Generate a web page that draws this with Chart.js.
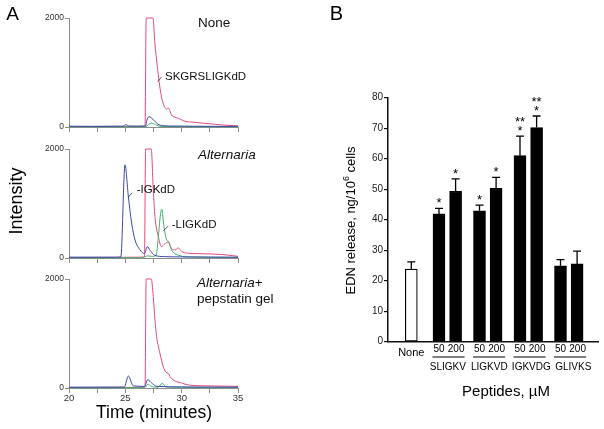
<!DOCTYPE html>
<html><head><meta charset="utf-8">
<script src="https://cdn.jsdelivr.net/npm/chart.js@4.4.0/dist/chart.umd.min.js"></script>
<style>
html,body{margin:0;padding:0;background:#fff;}
#wrap{position:relative;width:604px;height:429px;overflow:hidden;background:#fff;}
#wrap canvas{position:absolute;left:0;top:0;}
</style></head><body>
<div id="wrap">
<canvas id="a1" width="604" height="429"></canvas>
<canvas id="a2" width="604" height="429"></canvas>
<canvas id="a3" width="604" height="429"></canvas>
<canvas id="b" width="604" height="429"></canvas>
</div>
<script>
const FONT = "'Liberation Sans', Arial, Helvetica, sans-serif";

// ---------- Panel A data (time in minutes, intensity) ----------
const timeRange = [20, 35];
const intensityTicks = [0, 2000];

// None
const noneRedT = [20, 22, 24, 25.5, 26.5, 26.75, 26.85, 27.45, 27.62, 27.84, 28.0, 28.2, 28.45, 28.65, 28.8, 28.95, 29.1, 29.4, 29.7, 30.0, 30.4, 31.0, 31.9, 32.7, 33.4, 34.2, 35];
const noneRedI = [8, 10, 12, 12, 14, 18, 2000, 2000, 1540, 1110, 830, 560, 380, 330, 350, 300, 220, 180, 160, 130, 100, 90, 70, 55, 40, 30, 20];
const noneBlueT = [20, 22, 24, 24.8, 25.05, 25.3, 26, 26.8, 26.9, 27.1, 27.3, 27.6, 27.9, 28.3, 29, 31, 33, 35];
const noneBlueI = [15, 12, 14, 15, 45, 18, 15, 18, 120, 190, 170, 110, 50, 25, 18, 15, 12, 10];
const noneGreenT = [20, 26.8, 27.1, 27.35, 27.7, 28.2, 35];
const noneGreenI = [5, 6, 50, 70, 40, 10, 5];

// Alternaria
const altRedT = [20, 24, 26, 26.7, 26.8, 27.3, 27.48, 27.63, 27.93, 28.2, 28.5, 28.8, 29.1, 29.45, 29.7, 30.0, 30.5, 31.5, 32.5, 33.5, 34.5, 35];
const altRedI = [10, 12, 15, 20, 2000, 2000, 1250, 760, 390, 210, 260, 290, 170, 150, 185, 120, 90, 80, 75, 65, 45, 30];
const altBlueT = [20, 24, 24.6, 24.97, 25.27, 25.56, 25.86, 26.3, 26.7, 26.95, 27.2, 27.6, 28.5, 30, 32, 35];
const altBlueI = [15, 15, 20, 1710, 1125, 640, 330, 150, 80, 210, 140, 50, 25, 20, 18, 15];
const altGreenT = [20, 26.5, 27.0, 27.3, 27.7, 28.23, 28.43, 28.67, 28.85, 29.1, 29.4, 29.7, 30.5, 35];
const altGreenI = [5, 5, 40, 30, 40, 895, 575, 330, 300, 150, 80, 50, 20, 10];

// Alternaria + pepstatin gel
const pepRedT = [20, 26, 26.75, 26.85, 27.3, 27.48, 27.63, 27.78, 28.07, 28.37, 28.6, 28.8, 29.0, 29.26, 29.6, 29.9, 30.3, 30.8, 32, 33.5, 35];
const pepRedI = [10, 12, 20, 2000, 2000, 1680, 1250, 940, 636, 390, 290, 270, 200, 147, 110, 100, 70, 50, 40, 35, 30];
const pepBlueT = [20, 24.9, 25.27, 25.7, 26.7, 26.98, 27.4, 27.8, 30, 35];
const pepBlueI = [15, 18, 220, 40, 30, 150, 80, 30, 20, 15];
const pepGreenT = [20, 26.7, 27.0, 27.3, 27.9, 28.28, 28.6, 35];
const pepGreenI = [5, 5, 70, 30, 15, 86, 20, 5];

// ---------- Panel B data ----------
const peptides = ["SLIGKV", "LIGKVD", "IGKVDG", "GLIVKS"];
const doses = ["50", "200"];
const noneMean = 23.8, noneSem = 2.4;
const mean50 = [41.9, 42.9, 61.0, 24.9];
const mean200 = [49.3, 50.3, 70.2, 25.5];
const sem50 = [1.8, 1.9, 6.4, 2.0];
const sem200 = [4.1, 3.6, 3.8, 4.2];
const sig50 = [["*"], ["*"], ["**", "*"], []];
const sig200 = [["*"], ["*"], ["**", "*"], []];
const yTicksB = [0, 80, 10];

// ---------- Colors ----------
const RED = '#e4497a', BLUE = '#3b48a8', GREEN = '#44ad6c';

function pts(T, I) { return T.map((t, i) => ({x: t, y: I[i]})); }

// ---------- Panel A plugin ----------
const aDecor = {
  id: 'aDecor',
  afterDatasetsDraw(chart, args, o) {
    const ctx = chart.ctx, xs = chart.scales.x, ys = chart.scales.y;
    ctx.save();
    ctx.fillStyle = '#111';
    ctx.textBaseline = 'middle';
    ctx.textAlign = 'left';
    (o.title || []).forEach(line => {
      let x = line.x;
      line.parts.forEach(p => {
        ctx.font = (p.italic ? 'italic ' : '') + '13.5px ' + FONT;
        ctx.fillText(p.s, x, line.y);
        x += ctx.measureText(p.s).width;
      });
    });
    ctx.font = '11.5px ' + FONT;
    ctx.strokeStyle = '#333';
    ctx.lineWidth = 0.8;
    (o.labels || []).forEach(l => {
      const px = xs.getPixelForValue(l.at[0]), py = ys.getPixelForValue(l.at[1]);
      ctx.beginPath();
      ctx.moveTo(px, py);
      ctx.lineTo(px + l.lead[0], py + l.lead[1]);
      ctx.stroke();
      ctx.fillText(l.text, px + l.tx, py + l.ty);
    });
    ctx.restore();
  }
};

const pageText = {
  id: 'pageText',
  afterDraw(chart) {
    const ctx = chart.ctx;
    ctx.save();
    ctx.fillStyle = '#000';
    ctx.textAlign = 'center';
    ctx.textBaseline = 'middle';
    ctx.font = '19px ' + FONT;
    ctx.fillText('A', 12.5, 15);
    ctx.font = '17.5px ' + FONT;
    ctx.fillText('Time (minutes)', 154, 413);
    ctx.translate(17, 201);
    ctx.rotate(-Math.PI / 2);
    ctx.font = '18px ' + FONT;
    ctx.fillText('Intensity', 0, 0);
    ctx.restore();
  }
};

function mkA(id, area, series, showX, decor, extra) {
  const ds = series.map(s => ({
    data: pts(s.t, s.i), borderColor: s.c, borderWidth: 1, pointRadius: 0,
    cubicInterpolationMode: 'monotone', clip: false, fill: false
  }));
  return new Chart(document.getElementById(id), {
    type: 'line',
    data: {datasets: ds},
    plugins: [aDecor].concat(extra || []),
    options: {
      responsive: false, animation: false, events: [],
      layout: {padding: {top: area.top, right: 604 - area.right, bottom: 0, left: 0}},
      plugins: {legend: {display: false}, tooltip: {enabled: false}, aDecor: decor},
      scales: {
        x: {
          type: 'linear', min: timeRange[0], max: timeRange[1],
          ticks: {stepSize: 2.5, autoSkip: false, maxRotation: 0, display: showX,
            callback: v => (v % 5 === 0 ? String(v) : ''),
            font: {family: FONT, size: 9.5}, color: '#333', padding: 0},
          grid: {drawOnChartArea: false, drawTicks: true, tickLength: 5, color: '#8d8d8d', lineWidth: 1},
          border: {display: true, color: '#8d8d8d', width: 1},
          afterFit: s => { s.height = 429 - area.bottom; }
        },
        y: {
          min: intensityTicks[0], max: intensityTicks[1],
          ticks: {stepSize: intensityTicks[1], callback: v => String(v),
            font: {family: FONT, size: 8.5}, color: '#333', padding: 1},
          grid: {drawOnChartArea: false, tickLength: 4, color: '#8d8d8d', lineWidth: 1},
          border: {display: true, color: '#8d8d8d', width: 1},
          afterFit: s => { s.width = area.left; }
        }
      }
    }
  });
}

mkA('a1', {left: 69, right: 238, top: 18, bottom: 127}, [
  {t: noneBlueT, i: noneBlueI, c: BLUE},
  {t: noneGreenT, i: noneGreenI, c: GREEN},
  {t: noneRedT, i: noneRedI, c: RED}
], false, {
  title: [{x: 198, y: 23, parts: [{s: 'None'}]}],
  labels: [{at: [27.87, 830], lead: [4, -5], text: 'SKGRSLIGKdD', tx: 7.3, ty: -5}]
});

mkA('a2', {left: 69, right: 238, top: 149, bottom: 258}, [
  {t: altBlueT, i: altBlueI, c: BLUE},
  {t: altGreenT, i: altGreenI, c: GREEN},
  {t: altRedT, i: altRedI, c: RED}
], false, {
  title: [{x: 198, y: 155, parts: [{s: 'Alternaria', italic: true}]}],
  labels: [
    {at: [25.26, 1114], lead: [4, -4.6], text: '-IGKdD', tx: 8.4, ty: -7.3},
    {at: [28.37, 501], lead: [5, -4.7], text: '-LIGKdD', tx: 8.4, ty: -5.7}
  ]
});

mkA('a3', {left: 69, right: 238, top: 279, bottom: 388}, [
  {t: pepBlueT, i: pepBlueI, c: BLUE},
  {t: pepGreenT, i: pepGreenI, c: GREEN},
  {t: pepRedT, i: pepRedI, c: RED}
], true, {
  title: [
    {x: 197, y: 283, parts: [{s: 'Alternaria', italic: true}, {s: '+'}]},
    {x: 197, y: 299, parts: [{s: 'pepstatin gel'}]}
  ],
  labels: []
}, [pageText]);

// ---------- Panel B ----------
// bar positions along a linear axis (units of 10 px): None at 0, peptide groups after
function barPos(g, d) { return g < 0 ? 0 : 2.77 + g * 4.05 + d * 1.66; }
const bars = [{pos: barPos(-1), mean: noneMean, sem: noneSem, sig: [], fill: '#fff'}];
peptides.forEach((p, g) => {
  bars.push({pos: barPos(g, 0), mean: mean50[g], sem: sem50[g], sig: sig50[g], fill: '#000'});
  bars.push({pos: barPos(g, 1), mean: mean200[g], sem: sem200[g], sig: sig200[g], fill: '#000'});
});

const bDecor = {
  id: 'bDecor',
  afterDatasetsDraw(chart) {
    const ctx = chart.ctx, xs = chart.scales.x, ys = chart.scales.y;
    ctx.save();
    ctx.strokeStyle = '#000';
    ctx.fillStyle = '#000';
    ctx.lineWidth = 1.3;
    bars.forEach(b => {
      const px = xs.getPixelForValue(b.pos);
      const y0 = ys.getPixelForValue(b.mean), y1 = ys.getPixelForValue(b.mean + b.sem);
      ctx.beginPath();
      ctx.moveTo(px, y0); ctx.lineTo(px, y1);
      ctx.moveTo(px - 4, y1); ctx.lineTo(px + 4, y1);
      ctx.stroke();
      ctx.font = '13px ' + FONT;
      ctx.textAlign = 'center';
      ctx.textBaseline = 'alphabetic';
      const n = b.sig.length;
      b.sig.forEach((s, k) => {
        const cy = y1 - 8 - (n - 1 - k) * 9;
        ctx.fillText(s, px, cy + 7);
      });
    });
    // category labels
    ctx.textAlign = 'center';
    ctx.textBaseline = 'middle';
    ctx.font = '11px ' + FONT;
    ctx.fillText('None', xs.getPixelForValue(barPos(-1)), 353);
    const nameShift = [0.5, 1.5, 3, 4.5];
    peptides.forEach((p, g) => {
      const x0 = xs.getPixelForValue(barPos(g, 0)), x1 = xs.getPixelForValue(barPos(g, 1));
      ctx.font = '10px ' + FONT;
      ctx.fillText(doses[0], x0, 349);
      ctx.fillText(doses[1], x1 + 0.5, 349);
      ctx.lineWidth = 1.1;
      ctx.beginPath();
      ctx.moveTo(x0 - 6.5, 357); ctx.lineTo(x1 + 9, 357);
      ctx.stroke();
      ctx.font = '10px ' + FONT;
      ctx.fillText(p, (x0 + x1) / 2 + nameShift[g], 367);
    });
    ctx.font = '15px ' + FONT;
    ctx.fillText('Peptides, \u00B5M', 506, 392);
    ctx.font = '20px ' + FONT;
    ctx.fillText('B', 336.5, 14.5);
    // y title with superscript
    ctx.translate(351, 220.5);
    ctx.rotate(-Math.PI / 2);
    const a = 'EDN release, ng/10', sup = '6', c = ' cells';
    ctx.font = '13px ' + FONT; const wa = ctx.measureText(a).width, wc = ctx.measureText(c).width;
    ctx.font = '9px ' + FONT; const ws = ctx.measureText(sup).width;
    let x = -(wa + ws + wc) / 2;
    ctx.textAlign = 'left';
    ctx.font = '13px ' + FONT; ctx.fillText(a, x, 0); x += wa;
    ctx.font = '9px ' + FONT; ctx.fillText(sup, x, -4.5); x += ws;
    ctx.font = '13px ' + FONT; ctx.fillText(c, x, 0);
    ctx.restore();
  }
};

new Chart(document.getElementById('b'), {
  type: 'bar',
  data: {datasets: [{
    data: bars.map(b => ({x: b.pos, y: b.mean})),
    backgroundColor: bars.map(b => b.fill),
    borderColor: '#000', borderWidth: 1.2, borderSkipped: false,
    barThickness: 12, grouped: false
  }]},
  plugins: [bDecor],
  options: {
    responsive: false, animation: false, events: [],
    layout: {padding: {top: 97.7, right: 6, bottom: 0, left: 0}},
    plugins: {legend: {display: false}, tooltip: {enabled: false}},
    scales: {
      x: {
        type: 'linear', min: -2.33, max: 18.67, offset: false,
        ticks: {display: false},
        grid: {display: false, drawTicks: false},
        border: {display: true, color: '#111', width: 1.5},
        afterFit: s => { s.height = 429 - 341.7; }
      },
      y: {
        min: yTicksB[0], max: yTicksB[1],
        ticks: {stepSize: yTicksB[2], font: {family: FONT, size: 10}, color: '#222', padding: 1},
        grid: {drawOnChartArea: false, tickLength: 4, color: '#111', lineWidth: 1.2},
        border: {display: true, color: '#111', width: 1.5},
        afterFit: s => { s.width = 388; }
      }
    }
  }
});
</script>
</body></html>
